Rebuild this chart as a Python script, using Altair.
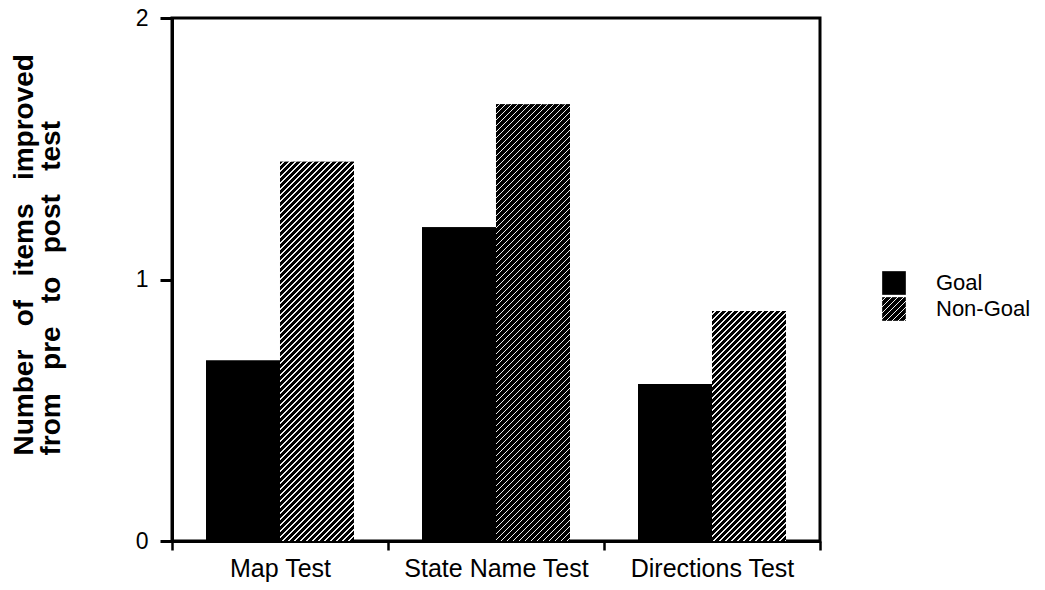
import altair as alt

# ---- data ----
tests = ["Map Test", "State Name Test", "Directions Test"]
groups = ["Goal", "Non-Goal"]
goal_values = [0.69, 1.20, 0.60]
nongoal_values = [1.45, 1.67, 0.88]
y_ticks = [0, 1, 2]

# ---- layout constants ----
PLOT_W, PLOT_H = 648, 523
YMAX = 2
PAD_OUTER = 0.46
band_w = PLOT_W / len(tests)
bar_w = band_w / (len(groups) + 2 * PAD_OUTER)
px_per_unit = PLOT_H / YMAX


def hatch(w, h, period=6.0, line=1.2):
    """Diagonal white-on-black hatching as a bbox linear gradient."""
    total = w + h
    a = total / (w * w + h * h)
    stops = [{"offset": 0, "color": "black"}]
    pos = period / 2
    while pos < total:
        s = pos / total
        e = min((pos + line) / total, 1)
        stops += [
            {"offset": s, "color": "black"},
            {"offset": s, "color": "#eeeeee"},
            {"offset": e, "color": "#eeeeee"},
            {"offset": e, "color": "black"},
        ]
        pos += period
    stops.append({"offset": 1, "color": "black"})
    return {"gradient": "linear", "x1": 0, "y1": 0, "x2": a * w, "y2": a * h, "stops": stops}


def to_expr(g):
    st = ",".join("{offset:%.5f,color:'%s'}" % (s["offset"], s["color"]) for s in g["stops"])
    return "{gradient:'linear',x1:0,y1:0,x2:%.5f,y2:%.5f,stops:[%s]}" % (g["x2"], g["y2"], st)


records = []
for t, gv, nv in zip(tests, goal_values, nongoal_values):
    records.append({"test": t, "group": groups[0], "value": gv, "fillv": "black"})
    records.append({"test": t, "group": groups[1], "value": nv,
                    "fillv": hatch(bar_w, nv * px_per_unit)})

data = alt.Data(values=records)

legend_grad = to_expr(hatch(23.7, 23.7))

NB = "\u00a0\u00a0\u00a0"
title_lines = [NB.join(["Number", "of", "items", "improved"]),
               NB.join(["from", "pre", "to", "post", "test"])]

x_enc = alt.X(
    "test:N", sort=tests,
    scale=alt.Scale(paddingInner=0, paddingOuter=0),
    axis=alt.Axis(title=None, labelAngle=0, tickBand="extent", tickSize=9,
                  tickWidth=2.5, labelFontSize=25, labelBaseline="alphabetic",
                  labelPadding=26, domainWidth=3, labelLimit=300),
)
xo_enc = alt.XOffset("group:N", sort=groups,
                     scale=alt.Scale(paddingInner=0, paddingOuter=PAD_OUTER))
y_enc = alt.Y(
    "value:Q",
    scale=alt.Scale(domain=[0, YMAX], nice=False),
    axis=alt.Axis(
        values=y_ticks, labelExpr="toString(datum.value)", tickCount=10,
        tickSize=12, tickWidth=3, labelFontSize=23, labelPadding=12, domainWidth=3,
        title=title_lines,
        titleFont="Liberation Sans", titleFontSize=28, titleFontWeight="bold",
        titleAngle=270, titleAlign="left", titleBaseline="alphabetic",
        titleX=-140, titleY=437, titleLineHeight=27, titleColor="black",
    ),
)

base = alt.Chart(data).encode(x=x_enc, xOffset=xo_enc, y=y_enc)

legend_layer = base.mark_bar().encode(
    color=alt.Color(
        "group:N", sort=groups,
        scale=alt.Scale(domain=groups, range=["black", alt.ExprRef(expr=legend_grad)]),
        legend=alt.Legend(
            title=None, orient="none", legendX=710, legendY=253,
            symbolType="square", symbolSize=560, symbolStrokeWidth=0,
            labelFontSize=22, labelFont="Liberation Sans", labelColor="black",
            labelOffset=30, rowPadding=2, padding=0, labelLimit=300,
        ),
    )
)

hatch_layer = base.mark_bar().encode(fill=alt.Fill("fillv:N", scale=None, legend=None))

chart = (
    alt.layer(legend_layer, hatch_layer)
    .properties(
        width=PLOT_W, height=PLOT_H,
        padding={"left": 164, "top": 10, "right": 217, "bottom": 41},
        autosize=alt.AutoSizeParams(type="none"),
    )
    .configure_view(stroke="black", strokeWidth=3)
    .configure_axis(domainColor="black", tickColor="black", labelColor="black",
                    labelFont="Liberation Sans", grid=False)
)

chart.save("out.html", embed_options={"renderer": "svg", "actions": False})
